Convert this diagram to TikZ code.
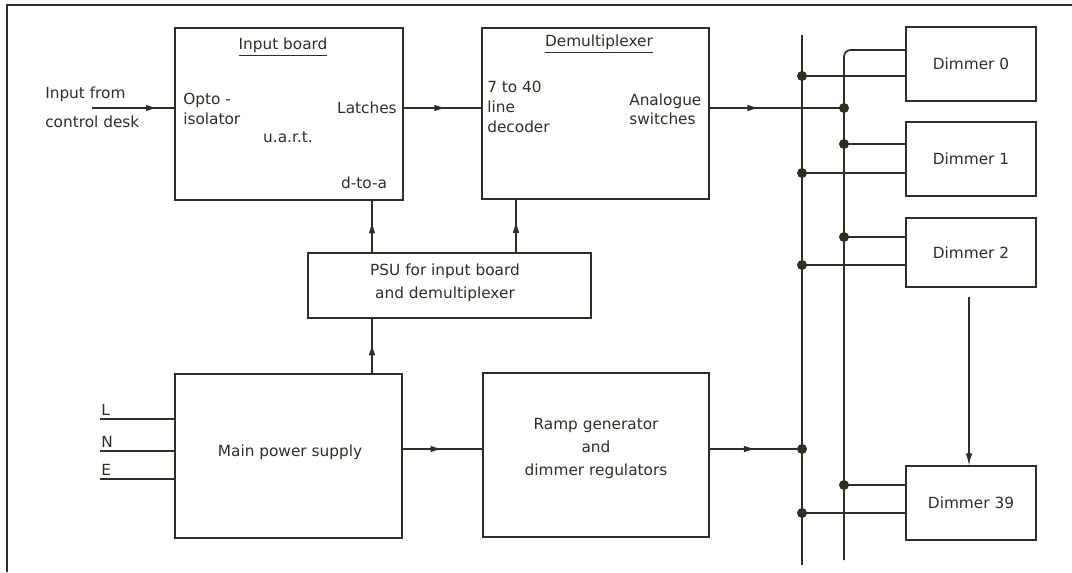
\documentclass[tikz,border=0pt]{standalone}
\usepackage{fontspec}
\setmainfont{DejaVu Sans}
\usetikzlibrary{arrows.meta,calc}
\definecolor{ink}{RGB}{45,47,35}
\begin{document}
\begin{tikzpicture}[x=0.75pt,y=-0.75pt,
  every node/.style={text=ink},
  box/.style={draw=ink,line width=1.1pt,inner sep=0pt},
  lbl/.style={inner sep=0pt,font=\fontsize{11.5}{15}\selectfont},
  conn/.style={draw=ink,line width=1.3pt},
  thinconn/.style={draw=ink,line width=0.8pt},
  tip/.style={draw=ink,line width=1.3pt,-{Latex[length=9pt,width=5pt]}},
  dot/.style={circle,fill=ink,inner sep=0pt,minimum size=7.5pt}]
\useasboundingbox (0,0) rectangle (1072,572);
% frame
\draw[draw=ink,line width=1.1pt] (7,572) -- (7,5) -- (1072,5);
% boxes
\node[box,minimum width=228*0.75pt,minimum height=172*0.75pt] (ib) at (289,114) {};
\node[box,minimum width=227*0.75pt,minimum height=171*0.75pt] (dm) at (595.5,113.5) {};
\node[box,minimum width=283*0.75pt,minimum height=65*0.75pt] (psu) at (449.5,285.5) {};
\node[box,minimum width=227*0.75pt,minimum height=164*0.75pt] (mps) at (288.5,456) {};
\node[box,minimum width=226*0.75pt,minimum height=164*0.75pt] (ramp) at (596,455) {};
\node[box,lbl,minimum width=130*0.75pt,minimum height=74*0.75pt] (d0) at (971,64) {Dimmer 0};
\node[box,lbl,minimum width=130*0.75pt,minimum height=74*0.75pt] (d1) at (971,159) {Dimmer 1};
\node[box,lbl,minimum width=130*0.75pt,minimum height=69*0.75pt] (d2) at (971,252.5) {Dimmer 2};
\node[box,lbl,minimum width=130*0.75pt,minimum height=74*0.75pt] (d39) at (971,503) {Dimmer 39};
% texts
\node[lbl,anchor=center] (tib) at (283,47) {\underline{Input board}};
\node[lbl,anchor=west,align=left,font=\fontsize{11.5}{21.75}\selectfont] (tin) at (45,107.5) {Input from\\control desk};
\node[lbl,anchor=west,align=left] (topto) at (183,109) {Opto -\\isolator};
\node[lbl] (tuart) at (288,137) {u.a.r.t.};
\node[lbl,anchor=east] (tlat) at (397,108) {Latches};
\node[lbl] (tdta) at (364,183) {d-to-a};
\node[lbl] (tdm) at (599,44) {\underline{Demultiplexer}};
\node[lbl,anchor=west,align=left] (tdec) at (487,107) {7 to 40\\line\\decoder};
\node[lbl,anchor=west,align=left,font=\fontsize{11.5}{14.5}\selectfont] (tana) at (629,109) {Analogue\\switches};
\node[lbl,align=center,font=\fontsize{11.5}{17.25}\selectfont] (tpsu) at (445,283) {PSU for input board\\and demultiplexer};
\node[lbl] (tmps) at (290,452) {Main power supply};
\node[lbl,align=center,font=\fontsize{11.5}{17.6}\selectfont] (tramp) at (596,448.5) {Ramp generator\\and\\dimmer regulators};
% mains labels
\coordinate (cL) at (100,419);
\coordinate (cN) at (100,451);
\coordinate (cE) at (100,479);
\node[lbl,anchor=south west] (tL) at (101,416) {L};
\node[lbl,anchor=south west] (tN) at (101,448) {N};
\node[lbl,anchor=south west] (tE) at (101,476) {E};
\draw[draw=ink,line width=1.8pt] (cL) -- (cL -| mps.west);
\draw[draw=ink,line width=1.8pt] (cN) -- (cN -| mps.west);
\draw[draw=ink,line width=1.8pt] (cE) -- (cE -| mps.west);
% buses
\coordinate (bLtop) at (802,35);
\coordinate (bLbot) at (802,565);
\coordinate (bRtop) at (844,50);
\coordinate (bRbot) at (844,560);
\draw[conn] (bLtop) -- (bLbot);
\draw[conn,rounded corners=5pt] (d0.west |- bRtop) -- (bRtop) -- (bRbot);
% junctions
\node[dot] (jL0) at (802,76) {};
\node[dot] (jL1) at (802,173) {};
\node[dot] (jL2) at (802,265) {};
\node[dot] (jLr) at (802,449) {};
\node[dot] (jL39) at (802,513) {};
\node[dot] (jRd) at (844,108) {};
\node[dot] (jR1) at (844,144) {};
\node[dot] (jR2) at (844,237) {};
\node[dot] (jR39) at (844,485) {};
\draw[conn] (jL0.center) -- (jL0.center -| d0.west);
\draw[conn] (jL1.center) -- (jL1.center -| d1.west);
\draw[conn] (jL2.center) -- (jL2.center -| d2.west);
\draw[conn] (jL39.center) -- (jL39.center -| d39.west);
\draw[conn] (jR1.center) -- (jR1.center -| d1.west);
\draw[conn] (jR2.center) -- (jR2.center -| d2.west);
\draw[conn] (jR39.center) -- (jR39.center -| d39.west);
% signal path
\coordinate (cin) at (92,108);
\draw[conn] (cin) -- (cin -| ib.west);
\draw[tip] (cin) -- ($(cin)!0.8!(cin -| ib.west)$);
\draw[conn] (cin -| ib.east) -- (cin -| dm.west);
\draw[tip] (cin -| ib.east) -- ($(cin -| ib.east)!0.55!(cin -| dm.west)$);
\draw[conn] (cin -| dm.east) -- (jRd.center);
\draw[tip] (cin -| dm.east) -- ($(cin -| dm.east)!0.37!(jRd.center)$);
% power path
\coordinate (vx1) at (372,0);
\coordinate (vx2) at (516,0);
\draw[conn] (vx1 |- psu.north) -- (vx1 |- ib.south);
\draw[tip] (vx1 |- psu.north) -- ($(vx1 |- psu.north)!0.6!(vx1 |- ib.south)$);
\draw[conn] (vx2 |- psu.north) -- (vx2 |- dm.south);
\draw[tip] (vx2 |- psu.north) -- ($(vx2 |- psu.north)!0.6!(vx2 |- dm.south)$);
\draw[conn] (vx1 |- mps.north) -- (vx1 |- psu.south);
\draw[tip] (vx1 |- mps.north) -- ($(vx1 |- mps.north)!0.55!(vx1 |- psu.south)$);
\coordinate (hy) at (0,449);
\draw[conn] (hy -| mps.east) -- (hy -| ramp.west);
\draw[tip] (hy -| mps.east) -- ($(hy -| mps.east)!0.5!(hy -| ramp.west)$);
\draw[conn] (hy -| ramp.east) -- (jLr.center);
\draw[tip] (hy -| ramp.east) -- ($(hy -| ramp.east)!0.5!(jLr.center)$);
% dimmer ellipsis arrow
\coordinate (ax) at (969,297);
\draw[thinconn,-{Latex[length=9pt,width=5pt]}] (ax) -- (ax |- d39.north);
\end{tikzpicture}
\end{document}
